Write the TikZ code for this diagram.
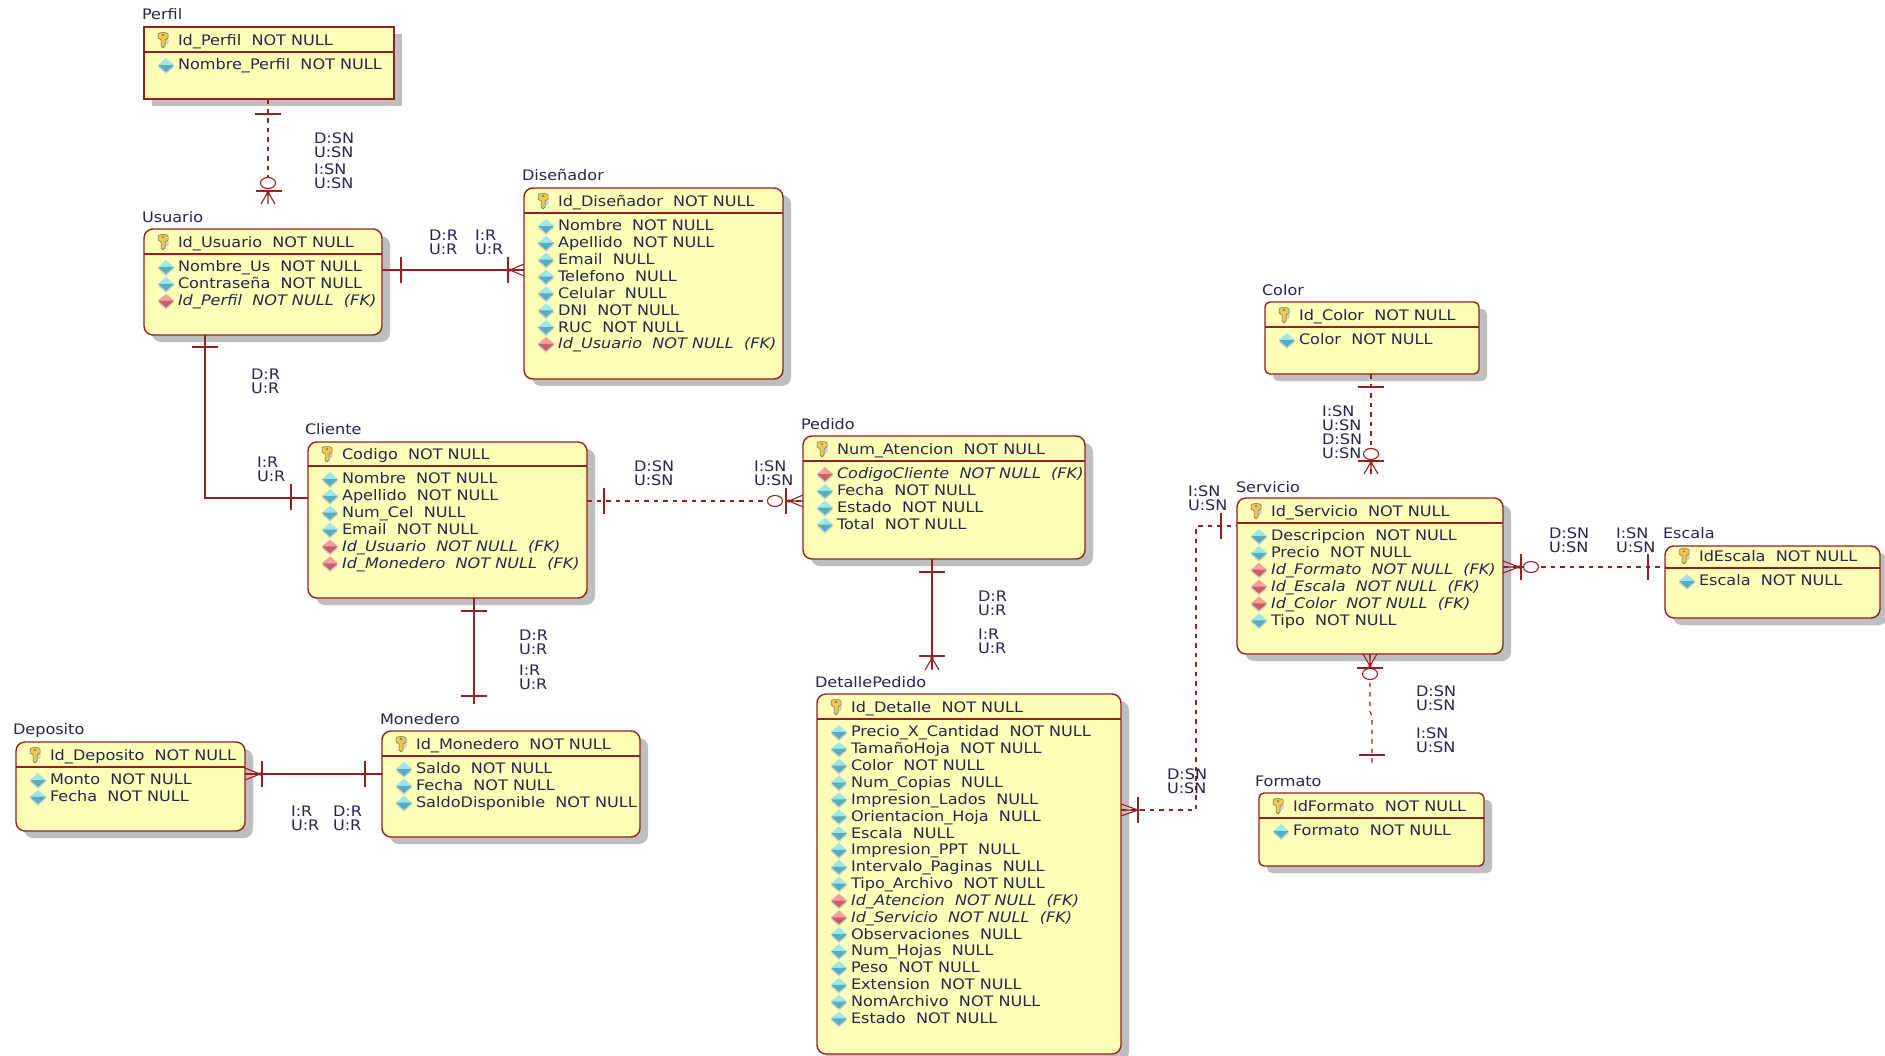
\documentclass[tikz,border=0pt]{standalone}
\usepackage{fontspec}
\setmainfont[FakeStretch=1.11]{DejaVu Sans}
\usetikzlibrary{calc}
\definecolor{bord}{HTML}{962020}
\definecolor{fillc}{HTML}{FFFFB8}
\definecolor{shad}{HTML}{BEBEBE}
\definecolor{txt}{HTML}{26264A}
\definecolor{diaa}{HTML}{9FE6E8}
\definecolor{diaadk}{HTML}{55AEBE}
\definecolor{diaf}{HTML}{F5A0A0}
\definecolor{diafdk}{HTML}{C86060}
\definecolor{keyc}{HTML}{EBC84E}
\tikzset{
  x=1pt,y=-1pt,
  ebox/.style={draw=bord,line width=1.4pt,fill=fillc,inner sep=0pt,outer sep=0pt},
  rtext/.style={text=txt,font=\fontsize{14.5}{15}\selectfont,anchor=mid west,inner sep=0pt,outer sep=0pt},
  elabel/.style={text=txt,font=\fontsize{14.5}{15}\selectfont,anchor=mid west,inner sep=0pt,outer sep=0pt},
  crel/.style={text=txt,font=\fontsize{14.5}{14}\selectfont,anchor=west,align=left,inner sep=0pt,outer sep=0pt},
  rel/.style={draw=bord,line width=1.4pt},
  reld/.style={draw=bord,line width=1.1pt,dash pattern=on 4.5pt off 5pt},
  mk/.style={draw=bord,line width=1.2pt},
}
\newcommand\nn{\ \ NOT NULL}
\newcommand\nl{\ \ NULL}
\newcommand\fk{\ \ NOT NULL\ \ (FK)}
\newcommand\fkr[1]{\itshape #1\fk}
% key icon
\newcommand\keyicon[2]{%
  \fill[shad!70] (#1+2,#2+1) circle (4pt);
  \draw[draw=black!60,line width=0.5pt,fill=keyc] (#1-5,#2-6) .. controls (#1-5,#2-8) and (#1+5,#2-8) .. (#1+5,#2-6)
     -- (#1+5,#2-2) -- (#1+2,#2) -- (#1+2,#2+6) -- (#1,#2+8) -- (#1-2,#2+6) -- (#1-2,#2) -- (#1-5,#2-2) -- cycle;
  \fill[black!55] (#1,#2-5) circle (1.2pt);
}
\newcommand\dia[3]{%
  \fill[shad!70] (#1-8,#2+2) -- (#1,#2-5) -- (#1+8,#2+2) -- (#1,#2+9) -- cycle;
  \fill[dia#3] (#1-8,#2) -- (#1,#2-7) -- (#1+8,#2) -- cycle;
  \fill[dia#3dk] (#1-8,#2) -- (#1,#2+7) -- (#1+8,#2) -- cycle;
}
% #1 id #2 l #3 t #4 r #5 b #6 header #7 corner #8 title #9 rows
\newcommand\ent[9]{%
  \fill[shad,#7] (#2+8,#3+7) rectangle (#4+8,#5+7);
  \node[ebox,#7,minimum width=#4-#2,minimum height=#5-#3] (#1) at ({(#2+#4)/2},{(#3+#5)/2}) {};
  \draw[draw=bord,line width=1.2pt] (#2,#6) -- (#4,#6);
  \keyicon{#2+19}{#6-12}
  \node[rtext] (#1-t) at (#2+34,#6-9.5) {#8};
  \foreach \ty/\tx [count=\i] in {#9} {
    \pgfmathsetmacro\yy{#6+13+16.85*(\i-1)}
    \dia{#2+22}{\yy}{\ty}
    \node[rtext] (#1-\i) at (#2+34,\yy+2.2) {\tx};
  }
}
\newcommand\vtick[2]{\draw[mk] (#1,#2-13) -- (#1,#2+13);}% vertical bar
\newcommand\htick[2]{\draw[mk] (#1-13,#2) -- (#1+13,#2);}% horizontal bar
\newcommand\crowh[3]{\draw[mk,line width=1.1pt] (#2,#1) -- (#3,#1-6) (#2,#1) -- (#3,#1) (#2,#1) -- (#3,#1+6); \fill[bord] (#2,#1) circle (1.8pt);}
\newcommand\crowv[3]{\draw[mk,line width=1.1pt] (#1,#2) -- (#1-7,#3) (#1,#2) -- (#1,#3) (#1,#2) -- (#1+7,#3); \fill[bord] (#1,#2) circle (1.8pt);}
\newcommand\circm[2]{\draw[mk,line width=1.1pt,fill=white] (#1,#2) ellipse [x radius=7.5pt,y radius=5.5pt];}
\begin{document}
\begin{tikzpicture}
\useasboundingbox (0,0) rectangle (1885,1055);
\fill[white] (0,0) rectangle (1885,1055);

\ent{perfil}{144}{27}{394}{99}{52}{}{Id\_Perfil\nn}{a/Nombre\_Perfil\nn}
\ent{usuario}{144}{229}{382}{335}{254}{rounded corners=9pt}{Id\_Usuario\nn}{a/Nombre\_Us\nn,a/Contraseña\nn,f/\fkr{Id\_Perfil}}
\ent{disenador}{524}{188}{783}{379}{213}{rounded corners=9pt}{Id\_Diseñador\nn}{a/Nombre\nn,a/Apellido\nn,a/Email\nl,a/Telefono\nl,a/Celular\nl,a/DNI\nn,a/RUC\nn,f/\fkr{Id\_Usuario}}
\ent{color}{1265}{302}{1479}{374}{327}{rounded corners=5pt}{Id\_Color\nn}{a/Color\nn}
\ent{cliente}{308}{442}{587}{598}{466}{rounded corners=9pt}{Codigo\nn}{a/Nombre\nn,a/Apellido\nn,a/Num\_Cel\nl,a/Email\nn,f/\fkr{Id\_Usuario},f/\fkr{Id\_Monedero}}
\ent{pedido}{803}{436}{1085}{559}{461}{rounded corners=9pt}{Num\_Atencion\nn}{f/\fkr{CodigoCliente},a/Fecha\nn,a/Estado\nn,a/Total\nn}
\ent{servicio}{1237}{498}{1503}{654}{523}{rounded corners=9pt}{Id\_Servicio\nn}{a/Descripcion\nn,a/Precio\nn,f/\fkr{Id\_Formato},f/\fkr{Id\_Escala},f/\fkr{Id\_Color},a/Tipo\nn}
\ent{escala}{1665}{546}{1880}{618}{568}{rounded corners=9pt}{IdEscala\nn}{a/Escala\nn}
\ent{detalle}{817}{694}{1121}{1054}{719}{rounded corners=9pt}{Id\_Detalle\nn}{a/Precio\_X\_Cantidad\nn,a/TamañoHoja\nn,a/Color\nn,a/Num\_Copias\nl,a/Impresion\_Lados\nl,a/Orientacion\_Hoja\nl,a/Escala\nl,a/Impresion\_PPT\nl,a/Intervalo\_Paginas\nl,a/Tipo\_Archivo\nn,f/\fkr{Id\_Atencion},f/\fkr{Id\_Servicio},a/Observaciones\nl,a/Num\_Hojas\nl,a/Peso\nn,a/Extension\nn,a/NomArchivo\nn,a/Estado\nn}
\ent{formato}{1259}{793}{1484}{866}{818}{rounded corners=5pt}{IdFormato\nn}{a/Formato\nn}
\ent{deposito}{16}{742}{245}{831}{767}{rounded corners=9pt}{Id\_Deposito\nn}{a/Monto\nn,a/Fecha\nn}
\ent{monedero}{382}{731}{640}{837}{756}{rounded corners=9pt}{Id\_Monedero\nn}{a/Saldo\nn,a/Fecha\nn,a/SaldoDisponible\nn}

% entity names
\node[elabel] (lperfil) at (142,17) {Perfil};
\node[elabel] (lusuario) at (142,220) {Usuario};
\node[elabel] (ldis) at (522,178) {Diseñador};
\node[elabel] (lcolor) at (1262,293) {Color};
\node[elabel] (lcliente) at (305,432) {Cliente};
\node[elabel] (lpedido) at (801,427) {Pedido};
\node[elabel] (ldetalle) at (815,685) {DetallePedido};
\node[elabel] (lservicio) at (1236,490) {Servicio};
\node[elabel] (lescala) at (1663,536) {Escala};
\node[elabel] (lformato) at (1255,784) {Formato};
\node[elabel] (ldeposito) at (13,732) {Deposito};
\node[elabel] (lmonedero) at (380,722) {Monedero};

% free ends
\coordinate (pe) at (268,204);
\coordinate (ce) at (474,704);
\coordinate (de) at (932,669);
\coordinate (coe) at (1371,474);
\coordinate (fe) at (1372,767);
\coordinate (fj1) at (1370,712);
\coordinate (fj2) at (1372,716);
\coordinate (bend1) at (205,498);
\coordinate (bend2) at (1196,810);
\coordinate (bend3) at (1196,526);

% connectors
\draw[reld] (268,0 |- perfil.south) -- (268,191);
\htick{268}{114} \htick{269}{191} \circm{268}{183} \crowv{268}{192}{204}

\draw[rel] (382,270 -| usuario.east) -- (510,270);
\draw[rel] (510,270) -- (0,270 -| disenador.west);
\vtick{401}{270} \vtick{508}{270} \crowh{270}{510}{524}

\draw[rel] (205,0 |- usuario.south) -- (bend1) -- (0,498 -| cliente.west);
\htick{205}{347} \vtick{291}{497}

\draw[reld] (0,501 -| cliente.east) -- (0,501 -| pedido.west);
\vtick{604}{501} \circm{775}{501} \vtick{786}{501} \crowh{501}{789}{803}

\draw[rel] (932,0 |- pedido.south) -- (de);
\htick{932}{572} \htick{932}{656} \crowv{932}{658}{670}

\draw[rel] (474,0 |- cliente.south) -- (ce);
\htick{474}{611} \htick{474}{696}

\draw[rel] (0,774 -| deposito.east) -- (0,774 -| monedero.west);
\vtick{262}{774} \vtick{365}{774} \crowh{774}{260}{245}

\draw[reld] (0,810 -| detalle.east) -- (bend2) -- (bend3) -- (0,526 -| servicio.west);
\vtick{1138}{810} \vtick{1221}{526} \crowh{810}{1138}{1121}

\draw[reld] (0,567 -| servicio.east) -- (0,567 -| escala.west);
\crowh{567}{1519}{1503} \vtick{1521}{567} \circm{1531}{567} \vtick{1648}{567}

\draw[reld] (1370,0 |- servicio.south) -- (fj1) -- (fj2) -- (fe);
\crowv{1370}{666}{654} \htick{1370}{668} \circm{1370}{674} \htick{1372}{755}

\draw[reld] (1371,0 |- color.south) -- (coe);
\htick{1371}{387} \circm{1371}{454} \htick{1371}{461} \crowv{1371}{462}{474}

% cardinalities
\node[crel] (c1) at (314,145) {D:SN\\U:SN};
\node[crel] (c2) at (314,176) {I:SN\\U:SN};
\node[crel] (c3) at (429,242) {D:R\\U:R};
\node[crel] (c4) at (475,242) {I:R\\U:R};
\node[crel] (c5) at (251,381) {D:R\\U:R};
\node[crel] (c6) at (257,469) {I:R\\U:R};
\node[crel] (c7) at (634,473) {D:SN\\U:SN};
\node[crel] (c8) at (754,473) {I:SN\\U:SN};
\node[crel] (c9) at (978,603) {D:R\\U:R};
\node[crel] (c10) at (978,641) {I:R\\U:R};
\node[crel] (c11) at (519,642) {D:R\\U:R};
\node[crel] (c12) at (519,677) {I:R\\U:R};
\node[crel] (c13) at (291,818) {I:R\\U:R};
\node[crel] (c14) at (333,818) {D:R\\U:R};
\node[crel] (c15) at (1167,781) {D:SN\\U:SN};
\node[crel] (c16) at (1188,498) {I:SN\\U:SN};
\node[crel] (c17) at (1322,418) {I:SN\\U:SN};
\node[crel] (c18) at (1322,446) {D:SN\\U:SN};
\node[crel] (c19) at (1549,540) {D:SN\\U:SN};
\node[crel] (c20) at (1616,540) {I:SN\\U:SN};
\node[crel] (c21) at (1416,698) {D:SN\\U:SN};
\node[crel] (c22) at (1416,740) {I:SN\\U:SN};
\end{tikzpicture}
\end{document}
